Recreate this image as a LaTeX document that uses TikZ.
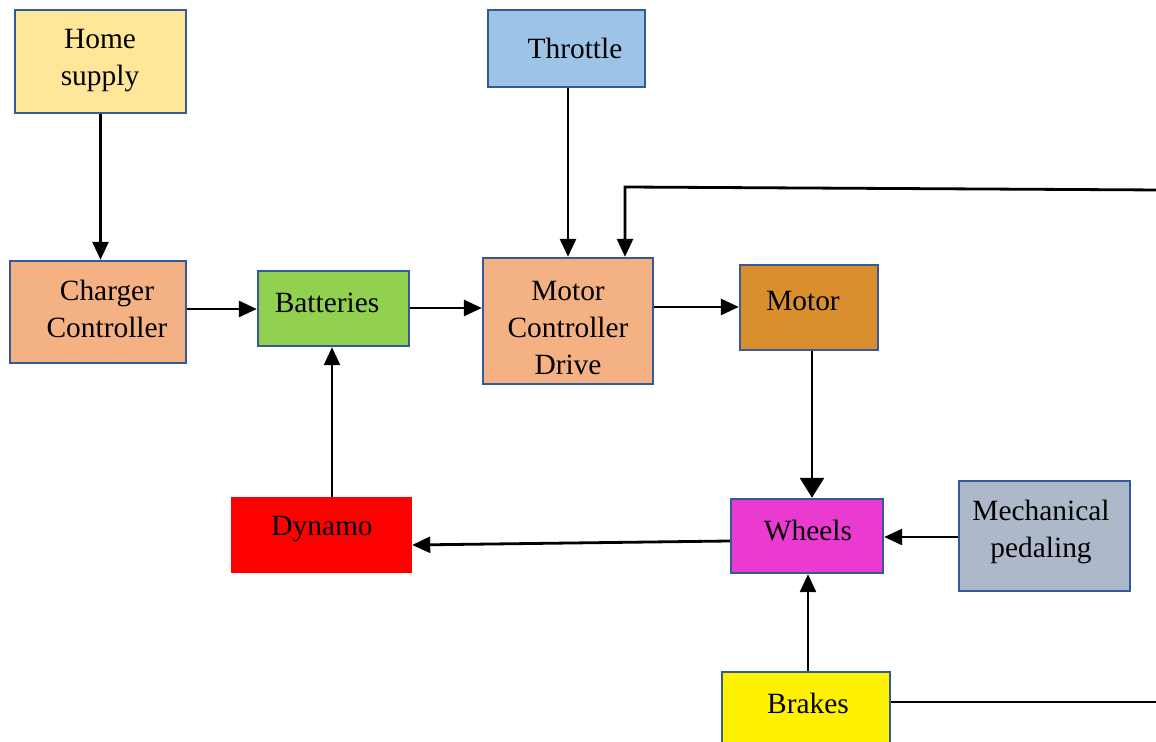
\documentclass[tikz,border=0pt]{standalone}
\usepackage{fontspec}
\setmainfont{Liberation Serif}
\usetikzlibrary{arrows.meta}
\definecolor{bordc}{HTML}{345A97}
\definecolor{chome}{HTML}{FFE699}
\definecolor{cthr}{HTML}{9DC3E6}
\definecolor{cpeach}{HTML}{F4B183}
\definecolor{cbatt}{HTML}{92D050}
\definecolor{cmotor}{HTML}{D98F2E}
\definecolor{cwheel}{HTML}{EA3ACF}
\definecolor{cmech}{HTML}{ADB9CA}
\begin{document}
\begin{tikzpicture}[x=0.5pt,y=-0.5pt,
  box/.style={draw=bordc, line width=1.2pt, inner sep=0pt},
  txt/.style={inner sep=0pt, align=center, font=\fontsize{14.7}{18.5}\selectfont},
  conn/.style={line width=1.4pt, -{Triangle[length=9pt,width=8pt]}},
  plain/.style={line width=1.4pt}]
\useasboundingbox (0,0) rectangle (1156,742);
\begin{scope}
\clip (0,0) rectangle (1156,742);
\node[box, fill=chome, minimum width=85.5pt, minimum height=51.5pt] (home) at (100.5,61.5) {};
\node[box, fill=cthr, minimum width=78.5pt, minimum height=38.5pt] (thr) at (566.5,48.5) {};
\node[box, fill=cpeach, minimum width=88pt, minimum height=51pt] (chg) at (98,312) {};
\node[box, fill=cbatt, minimum width=75.5pt, minimum height=37.5pt] (batt) at (333.5,308.5) {};
\node[box, fill=cpeach, minimum width=85pt, minimum height=63pt] (mcd) at (568,321) {};
\node[box, fill=cmotor, minimum width=69pt, minimum height=42.5pt] (motor) at (809,307.5) {};
\node[box, draw=red, fill=red, minimum width=89.5pt, minimum height=37pt] (dyn) at (321.5,535) {};
\node[box, fill=cwheel, minimum width=76pt, minimum height=37pt] (wheel) at (807,536) {};
\node[box, fill=cmech, minimum width=85.5pt, minimum height=55pt] (mech) at (1044.5,536) {};
\node[box, fill=yellow, minimum width=84pt, minimum height=40pt] (brake) at (806,712) {};

\node[txt] (thome) at (100,61) {Home\\supply};
\node[txt] (tthr) at (575,48) {Throttle};
\node[txt] (tchg) at (107,309) {Charger\\Controller};
\node[txt] (tbatt) at (327,303) {Batteries};
\node[txt] (tmcd) at (568,328) {Motor\\Controller\\Drive};
\node[txt] (tmotor) at (803,301) {Motor};
\node[txt] (tdyn) at (322,529) {Dynamo};
\node[txt] (twheel) at (808,531) {Wheels};
\node[txt] (tmech) at (1041,531.5) {Mechanical\\pedaling};
\node[txt] (tbrake) at (808,703) {Brakes};

\coordinate (fbR) at (1160,190);
\coordinate (fbL) at (625,187);
\coordinate (brR) at (1160,702);

\draw[conn] (home.south) -- (chg.north -| home.south);
\draw[conn] (chg.east |- 0,309) -- (batt.west |- 0,309);
\draw[conn] (batt.east |- 0,308) -- (mcd.west |- 0,308);
\draw[conn] (thr.south -| 568,0) -- (mcd.north -| 568,0);
\draw[conn] (fbR) -- (fbL) -- (mcd.north -| fbL);
\draw[conn] (mcd.east |- 0,307) -- (motor.west |- 0,307);
\draw[line width=1.4pt, -{Triangle[length=10pt,width=12pt]}] (motor.south -| 812,0) -- (wheel.north -| 812,0);
\draw[conn] (mech.west |- 0,537) -- (wheel.east |- 0,537);
\draw[conn] (wheel.west |- 0,541) -- (dyn.east |- 0,545);
\draw[conn] (dyn.north -| 332,0) -- (batt.south -| 332,0);
\draw[conn] (brake.north -| 808,0) -- (wheel.south -| 808,0);
\draw[plain] (brake.east |- 0,702) -- (brR);
\end{scope}
\end{tikzpicture}
\end{document}
